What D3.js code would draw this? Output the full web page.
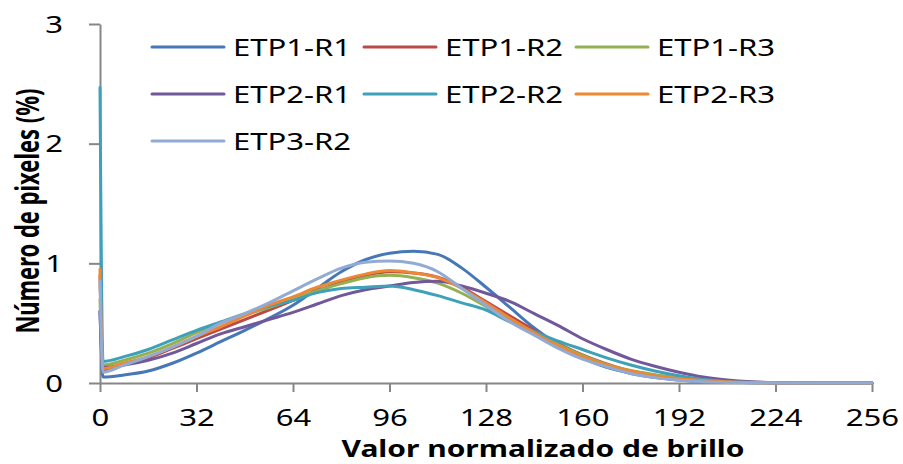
<!DOCTYPE html>
<html>
<head>
<meta charset="utf-8">
<script src="https://cdn.jsdelivr.net/npm/d3@7"></script>
<style>
  body { margin: 0; background: #ffffff; }
  text { font-family: "Noto Sans", sans-serif; fill: #000000; }
</style>
</head>
<body>
<div id="chart-area"></div>
<script>

// HISTOGRAMA - VALOR NORMALIZADO DE BRILLO

// brillo values where the curves were read
const brillo = [0, 1, 8, 16, 24, 32, 40, 48, 56, 64, 72, 80, 88, 96, 104, 112, 120, 128,
    136, 144, 152, 160, 168, 176, 184, 192, 200, 208, 216, 224, 240, 256]

// % of pixels, one array per sample
const etp1r1 = [0.6, 0.05, 0.067, 0.10, 0.165, 0.25, 0.345, 0.44, 0.54, 0.65, 0.79, 0.93, 1.03, 1.085, 1.10, 1.075, 0.96, 0.80,
    0.63, 0.46, 0.32, 0.21, 0.13, 0.08, 0.045, 0.025, 0.012, 0.006, 0.003, 0.001, 0, 0]
const etp1r2 = [0.9, 0.11, 0.16, 0.21, 0.29, 0.37, 0.45, 0.53, 0.61, 0.69, 0.77, 0.84, 0.90, 0.93, 0.92, 0.885, 0.80, 0.68,
    0.56, 0.44, 0.33, 0.235, 0.16, 0.10, 0.065, 0.04, 0.022, 0.011, 0.005, 0.002, 0, 0]
const etp1r3 = [0.7, 0.15, 0.19, 0.25, 0.33, 0.42, 0.50, 0.57, 0.63, 0.70, 0.77, 0.83, 0.88, 0.90, 0.88, 0.835, 0.75, 0.64,
    0.53, 0.42, 0.32, 0.23, 0.155, 0.105, 0.07, 0.045, 0.025, 0.012, 0.006, 0.002, 0, 0]
const etp2r1 = [0.6, 0.13, 0.15, 0.19, 0.25, 0.33, 0.41, 0.47, 0.53, 0.59, 0.66, 0.73, 0.78, 0.81, 0.84, 0.85, 0.81, 0.75,
    0.68, 0.58, 0.48, 0.37, 0.28, 0.20, 0.14, 0.09, 0.05, 0.025, 0.01, 0.003, 0, 0]
const etp2r2 = [2.47, 0.18, 0.22, 0.28, 0.36, 0.44, 0.51, 0.58, 0.64, 0.69, 0.755, 0.79, 0.80, 0.81, 0.78, 0.73, 0.67, 0.61,
    0.51, 0.43, 0.35, 0.28, 0.21, 0.15, 0.10, 0.06, 0.03, 0.013, 0.005, 0.002, 0, 0]
const etp2r3 = [0.95, 0.12, 0.165, 0.22, 0.30, 0.39, 0.47, 0.56, 0.65, 0.72, 0.80, 0.86, 0.91, 0.94, 0.92, 0.88, 0.79, 0.67,
    0.54, 0.42, 0.31, 0.22, 0.15, 0.10, 0.06, 0.035, 0.02, 0.01, 0.004, 0.001, 0, 0]
const etp3r2 = [0.85, 0.09, 0.15, 0.22, 0.30, 0.39, 0.50, 0.58, 0.67, 0.77, 0.87, 0.96, 1.01, 1.02, 1.00, 0.93, 0.79, 0.65,
    0.51, 0.40, 0.29, 0.20, 0.136, 0.08, 0.045, 0.022, 0.011, 0.005, 0.002, 0.001, 0, 0]

const seriesNames = ["ETP1-R1", "ETP1-R2", "ETP1-R3", "ETP2-R1", "ETP2-R2", "ETP2-R3", "ETP3-R2"]
const seriesValues = [etp1r1, etp1r2, etp1r3, etp2r1, etp2r2, etp2r3, etp3r2]
const colors = ["#4677b6", "#b94a47", "#93b153", "#71589a", "#3fa0b9", "#ee8734", "#92abd4"]

const xTicks = [0, 32, 64, 96, 128, 160, 192, 224, 256]
const yTicks = [0, 1, 2, 3]

// Set up margins
const MARGINS = { TOP: 24, BOTTOM: 81, LEFT: 100, RIGHT: 31 }
const WIDTH = 903 - MARGINS.LEFT - MARGINS.RIGHT
const HEIGHT = 464 - MARGINS.TOP - MARGINS.BOTTOM

// text in the original is stretched sideways
const SX = 1.35
const AXIS_COLOR = "#868686"

const svg = d3.select("#chart-area").append("svg")
    .attr("width", 903)
    .attr("height", 464)

const g = svg.append("g")
    .attr("transform", `translate(${MARGINS.LEFT}, ${MARGINS.TOP})`)

const x = d3.scaleLinear()
    .domain([0, 256])
    .range([0, WIDTH])

const y = d3.scaleLinear()
    .domain([0, 3])
    .range([HEIGHT, 0])

// Axes
const xAxis = d3.axisBottom(x)
    .tickValues(xTicks)
    .tickSize(9)
    .tickSizeOuter(0)

const xAxisGroup = g.append("g")
    .attr("class", "x-axis")
    .attr("transform", `translate(0, ${HEIGHT})`)
    .call(xAxis)

xAxisGroup.selectAll("text")
    .attr("y", 43)
    .attr("dy", 0)
    .attr("font-size", "23px")
    .attr("transform", `scale(${SX}, 1)`)

const yAxis = d3.axisLeft(y)
    .tickValues(yTicks)
    .tickFormat(d3.format("d"))
    .tickSize(11)
    .tickSizeOuter(0)

const yAxisGroup = g.append("g")
    .attr("class", "y-axis")
    .call(yAxis)

yAxisGroup.selectAll("text")
    .attr("x", 0)
    .attr("dy", "0.36em")
    .attr("font-size", "23px")
    .attr("transform", `translate(-37, 0) scale(${SX}, 1)`)

svg.selectAll(".x-axis path, .x-axis line, .y-axis path, .y-axis line")
    .attr("stroke", AXIS_COLOR)
    .attr("stroke-width", 2)

svg.selectAll(".x-axis text, .y-axis text")
    .attr("fill", "#000000")
    .attr("font-family", "'Noto Sans', sans-serif")

// Lines
const line = d3.line()
    .x((d, i) => x(brillo[i]))
    .y(d => y(d))
    .curve(d3.curveMonotoneX)

g.selectAll(".serie")
    .data(seriesValues)
    .enter()
    .append("path")
    .attr("class", "serie")
    .attr("d", d => line(d))
    .attr("fill", "none")
    .attr("stroke", (d, i) => colors[i])
    .attr("stroke-width", 3)
    .attr("stroke-linejoin", "round")
    .attr("stroke-linecap", "round")

// Legend
const legendCols = 3
const legend = svg.append("g")
    .attr("class", "legend")
    .attr("transform", "translate(152, 47)")

seriesNames.forEach((name, i) => {
    const legendRow = legend.append("g")
        .attr("transform", `translate(${(i % legendCols) * 212}, ${Math.floor(i / legendCols) * 47})`)

    legendRow.append("line")
        .attr("x1", 0)
        .attr("x2", 72)
        .attr("stroke", colors[i])
        .attr("stroke-width", 3)
        .attr("stroke-linecap", "round")

    legendRow.append("text")
        .attr("font-size", "23px")
        .attr("transform", `translate(81, 9) scale(${SX}, 1)`)
        .text(name)
})

// Axis titles
svg.append("text")
    .attr("class", "x-title")
    .attr("x", 543)
    .attr("y", 457)
    .attr("text-anchor", "middle")
    .attr("font-size", "24px")
    .attr("font-weight", "bold")
    .attr("textLength", 403)
    .attr("lengthAdjust", "spacingAndGlyphs")
    .text("Valor normalizado de brillo")

svg.append("text")
    .attr("class", "y-title")
    .attr("transform", `translate(39, 211) scale(${SX}, 1) rotate(-90)`)
    .attr("text-anchor", "middle")
    .attr("font-size", "24px")
    .attr("font-weight", "bold")
    .attr("textLength", 245)
    .attr("lengthAdjust", "spacingAndGlyphs")
    .text("Número de pixeles (%)")

</script>
</body>
</html>
